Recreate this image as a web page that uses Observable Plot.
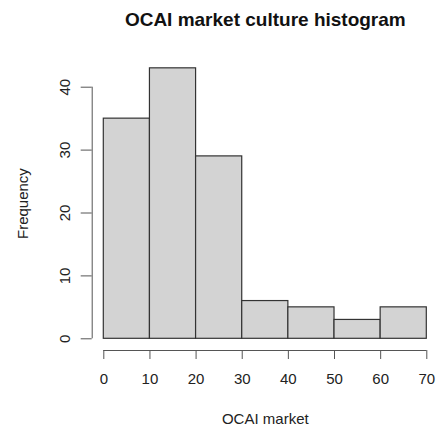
<!DOCTYPE html>
<html>
<head>
<meta charset="utf-8">
<script src="https://cdn.jsdelivr.net/npm/d3@7"></script>
<script src="https://cdn.jsdelivr.net/npm/@observablehq/plot@0.6"></script>
<style>
  html, body { margin: 0; padding: 0; background: #fff; }
</style>
</head>
<body>
<div id="chart"></div>
<script>
const binStart = [0, 10, 20, 30, 40, 50, 60];
const binEnd = [10, 20, 30, 40, 50, 60, 70];
const counts = [35, 43, 29, 6, 5, 3, 5];
const xTicks = [0, 10, 20, 30, 40, 50, 60, 70];
const yTicks = [0, 10, 20, 30, 40];
const title = "OCAI market culture histogram";
const xLabel = "OCAI market";
const yLabel = "Frequency";

const bins = binStart.map((s, i) => ({x1: s, x2: binEnd[i], y: counts[i]}));
const font = "'Liberation Sans', Arial, Helvetica, sans-serif";

const chart = Plot.plot({
  width: 438,
  height: 430,
  marginLeft: 91.7,
  marginRight: 12,
  marginTop: 26,
  marginBottom: 80,
  style: {fontFamily: font, fontSize: "15px", background: "#fff", color: "#222"},
  x: {domain: [0, 70], range: [103.3, 426.3]},
  y: {domain: [0, 40], range: [338.3, 86.7]},
  marks: [
    Plot.rectY(bins, {x1: "x1", x2: "x2", y1: 0, y2: "y", fill: "#d3d3d3", stroke: "#333", strokeWidth: 1.2, inset: 0}),
    // y axis
    Plot.ruleX([0], {y1: yTicks[0], y2: yTicks[yTicks.length - 1], dx: -11.6, stroke: "#555"}),
    Plot.axisY({ticks: yTicks, tickSize: 11, tickFormat: () => "", label: null, stroke: "#555"}),
    Plot.text(yTicks, {y: d => d, frameAnchor: "left", dx: -27, rotate: -90, textAnchor: "middle", lineAnchor: "middle", text: d => String(d), fontSize: 15, fill: "#222"}),
    // x axis
    Plot.ruleY([0], {x1: xTicks[0], x2: xTicks[xTicks.length - 1], dy: 11.7, stroke: "#555"}),
    Plot.axisX({ticks: xTicks, tickSize: 9, tickPadding: 14, label: null, fontSize: 15, stroke: "#555", fill: "#222"}),
    // titles
    Plot.text([title], {x: 35, frameAnchor: "top", textAnchor: "middle", lineAnchor: "bottom", dy: -1, text: d => d, fontSize: 19, fontWeight: "bold", fill: "#111"}),
    Plot.text([xLabel], {x: 35, frameAnchor: "bottom", textAnchor: "middle", lineAnchor: "bottom", dy: 73, text: d => d, fontSize: 15, fill: "#222"}),
    Plot.text([yLabel], {y: 21.5, frameAnchor: "left", dx: -64, rotate: -90, textAnchor: "middle", lineAnchor: "bottom", text: d => d, fontSize: 15, fill: "#222"})
  ]
});
document.getElementById("chart").appendChild(chart);
</script>
</body>
</html>
